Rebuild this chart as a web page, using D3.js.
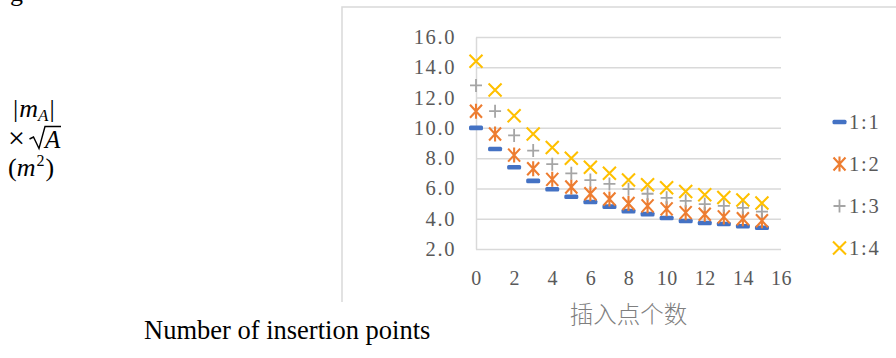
<!DOCTYPE html>
<html>
<head>
<meta charset="utf-8">
<script src="https://cdn.jsdelivr.net/npm/d3@7/dist/d3.min.js"></script>
<style>
  body { margin: 0; background: #fff; }
  svg { display: block; }
  .tick text { font-family: "Liberation Serif", "Times New Roman", serif; fill: #595959; }
  .xaxis .tick text { font-size: 20px; letter-spacing: 0.5px; }
  .grid .tick text { font-size: 20.5px; letter-spacing: 1.6px; }
  .grid .tick line { stroke: #d9d9d9; stroke-width: 1.5; }
  .grid .domain { stroke: #d9d9d9; stroke-width: 1.5; }
</style>
</head>
<body>
<script>
// the data
var insertionPoints = [0, 1, 2, 3, 4, 5, 6, 7, 8, 9, 10, 11, 12, 13, 14, 15];
var ratio11 = [10.0, 8.6, 7.4, 6.5, 5.95, 5.45, 5.1, 4.8, 4.5, 4.3, 4.05, 3.85, 3.72, 3.65, 3.5, 3.4];
var ratio12 = [11.1, 9.6, 8.2, 7.3, 6.6, 6.1, 5.65, 5.3, 5.0, 4.85, 4.65, 4.4, 4.3, 4.12, 4.0, 3.87];
var ratio13 = [12.8, 11.1, 9.5, 8.5, 7.6, 7.0, 6.55, 6.3, 5.95, 5.65, 5.38, 5.18, 4.97, 4.85, 4.72, 4.47];
var ratio14 = [14.4, 12.5, 10.8, 9.6, 8.7, 8.0, 7.4, 7.0, 6.56, 6.25, 6.05, 5.8, 5.58, 5.4, 5.23, 5.03];
var seriesNames = ["1:1", "1:2", "1:3", "1:4"];
var xTicks = [0, 2, 4, 6, 8, 10, 12, 14, 16];
var yTicks = [2, 4, 6, 8, 10, 12, 14, 16];

var width = 896,
    height = 358;

var svg = d3.select("body")
    .append("svg")
    .attr("width", width)
    .attr("height", height);

var serif = '"Liberation Serif", "Times New Roman", serif';

// chart frame (only top and left edge are in view)
svg.append("path")
    .attr("d", "M342,302V7H897")
    .attr("fill", "none")
    .attr("stroke", "#d9d9d9")
    .attr("stroke-width", 1.5);

// scales
var x = d3.scaleLinear().domain([0, 16]).range([476, 781]);
var y = d3.scaleLinear().domain([2, 16]).range([249, 37]);

// y axis with gridlines
var yAxis = svg.append("g")
    .attr("class", "grid")
    .attr("transform", "translate(" + x(0) + ",0)")
    .call(d3.axisLeft(y)
        .tickValues(yTicks)
        .tickFormat(d3.format(".1f"))
        .tickSizeInner(-(x(16) - x(0)))
        .tickSizeOuter(0)
        .tickPadding(20));
yAxis.selectAll(".tick")
    .filter(function(d) { return d === 2; })
    .select("line")
    .attr("stroke", "#c8c8c8");

// x axis, labels only
svg.append("g")
    .attr("class", "xaxis")
    .attr("transform", "translate(0," + y(2) + ")")
    .call(d3.axisBottom(x)
        .tickValues(xTicks)
        .tickSize(0)
        .tickPadding(21.5))
    .call(function(g) { g.select(".domain").remove(); });

// marker shapes
var colors = ["#4472C4", "#ED7D31", "#A5A5A5", "#FFC000"];
function drawMarker(sel, k) {
    if (k === 0) {
        sel.append("rect")
            .attr("x", -7).attr("y", -2.3)
            .attr("width", 14).attr("height", 4.6)
            .attr("rx", 1.5)
            .attr("fill", colors[0]);
    } else {
        var d = k === 1 ? "M-6,-6.5L6,6.5M-6,6.5L6,-6.5M0,-7.5V7.5"
              : k === 2 ? "M-6,0H6M0,-6.5V6.5"
              : "M-6.5,-6.5L6.5,6.5M-6.5,6.5L6.5,-6.5";
        sel.append("path")
            .attr("d", d)
            .attr("fill", "none")
            .attr("stroke", colors[k])
            .attr("stroke-width", k === 2 ? 1.8 : 2.1);
    }
}

var allSeries = [ratio11, ratio12, ratio13, ratio14];
allSeries.forEach(function(values, k) {
    svg.append("g")
        .selectAll("g")
        .data(values)
        .join("g")
        .attr("transform", function(d, i) {
            return "translate(" + x(insertionPoints[i]) + "," + y(d) + ")";
        })
        .each(function() { drawMarker(d3.select(this), k); });
});

// legend
var legend = svg.append("g")
    .selectAll("g")
    .data(seriesNames)
    .join("g")
    .attr("transform", function(d, i) { return "translate(839.5," + (122 + i * 42) + ")"; });
legend.each(function(d, i) { drawMarker(d3.select(this), i); });
legend.append("text")
    .attr("x", 9.5)
    .attr("y", 7)
    .attr("font-family", serif)
    .attr("font-size", 20.5)
    .attr("letter-spacing", 1.8)
    .attr("fill", "#595959")
    .text(function(d) { return d; });

// chinese x axis title
svg.append("text")
    .attr("x", (x(0) + x(16)) / 2)
    .attr("y", 323)
    .attr("text-anchor", "middle")
    .attr("font-family", '"Noto Sans CJK SC", sans-serif')
    .attr("font-weight", 300)
    .attr("font-size", 23.5)
    .attr("fill", "#7f7f7f")
    .text("插入点个数");

// english caption under the chart
svg.append("text")
    .attr("x", 144)
    .attr("y", 339)
    .attr("font-family", serif)
    .attr("font-size", 26.5)
    .attr("fill", "#000")
    .text("Number of insertion points");

// leftover "g" from the line above
svg.append("text")
    .attr("x", 10)
    .attr("y", 1)
    .attr("font-family", serif)
    .attr("font-size", 26)
    .text("g");

// y axis label: |m_A| x sqrt(A) (m^2)
var l1 = svg.append("text")
    .attr("x", 13).attr("y", 117)
    .attr("font-family", serif).attr("font-size", 26);
l1.append("tspan").text("|");
l1.append("tspan").attr("font-style", "italic").attr("dx", 1).text("m");
l1.append("tspan").attr("font-style", "italic").attr("font-size", 17).attr("dy", 4).text("A");
l1.append("tspan").attr("dy", -4).attr("dx", 1).text("|");

svg.append("text")
    .attr("x", 8).attr("y", 148)
    .attr("font-family", serif).attr("font-size", 30)
    .text("×");
svg.append("path")
    .attr("d", "M29.5,139L33.5,137L39,148.5L45,126.5H61")
    .attr("fill", "none")
    .attr("stroke", "#000")
    .attr("stroke-width", 1.4);
svg.append("text")
    .attr("x", 45).attr("y", 148)
    .attr("font-family", serif).attr("font-size", 25)
    .attr("font-style", "italic")
    .text("A");

var l3 = svg.append("text")
    .attr("x", 8).attr("y", 176)
    .attr("font-family", serif).attr("font-size", 26);
l3.append("tspan").text("(");
l3.append("tspan").attr("font-style", "italic").text("m");
l3.append("tspan").attr("font-size", 16).attr("dy", -10).attr("dx", 1).text("2");
l3.append("tspan").attr("dy", 10).attr("dx", 1).text(")");
</script>
</body>
</html>
